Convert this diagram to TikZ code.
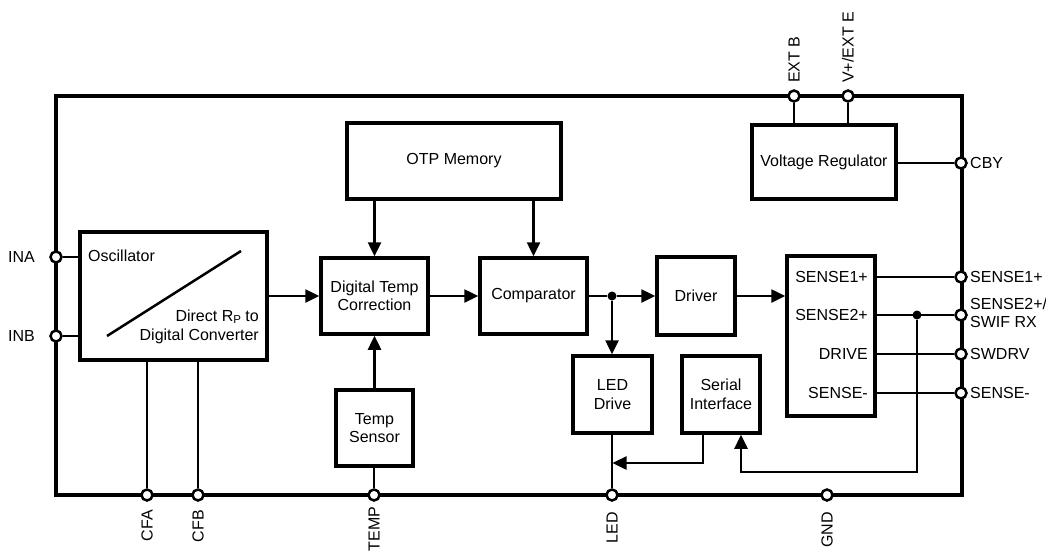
\documentclass[tikz,border=0pt]{standalone}
\usepackage{fontspec}
\setmainfont{Liberation Sans}
\usetikzlibrary{arrows.meta}
\begin{document}
\begin{tikzpicture}[x=1pt,y=-1pt,
  font=\fontsize{16}{18.5}\selectfont,
  blk/.style={draw,line width=3.5pt,align=center,inner sep=0pt},
  wire/.style={line width=2.5pt},
  arr/.style={line width=2.5pt,-{Triangle[length=14pt,width=13pt]}},
  pinc/.style={circle,draw,fill=white,line width=2.5pt,minimum size=11pt,inner sep=0pt},
  jdot/.style={circle,fill,minimum size=9pt,inner sep=0pt},
  lbl/.style={inner sep=0pt},
]
\useasboundingbox (0,0) rectangle (1046,552);
% chip outline
\node[draw,line width=3.5pt,minimum width=906pt,minimum height=399pt,inner sep=0pt] (chip) at (509,295.5) {};
% blocks
\node[blk,minimum width=187pt,minimum height=128pt] (osc) at (173.5,296) {};
\node[blk,minimum width=107pt,minimum height=76pt] (dtc) at (374.5,296) {Digital Temp\\Correction};
\node[blk,minimum width=107pt,minimum height=76pt] (cmp) at (533.5,296) {Comparator};
\node[blk,minimum width=78pt,minimum height=78pt] (drv) at (696,296) {Driver};
\node[blk,minimum width=88pt,minimum height=160pt] (sns) at (831,336) {};
\node[blk,minimum width=79pt,minimum height=77pt] (ledd) at (612.5,394.5) {LED\\Drive};
\node[blk,minimum width=78pt,minimum height=77pt] (ser) at (721,394.5) {Serial\\Interface};
\node[blk,minimum width=77pt,minimum height=76pt] (ts) at (374.5,428) {Temp\\Sensor};
\node[blk,minimum width=214pt,minimum height=76pt] (otp) at (454,161) {OTP Memory};
\node[blk,minimum width=144pt,minimum height=74pt] (vr) at (824,162) {Voltage Regulator};
% oscillator content
\node[lbl,anchor=west] (osct) at (88,256) {Oscillator};
\node[lbl,anchor=east,align=right] (dct) at (259,327) {Direct R{\fontsize{11.5}{11.5}\selectfont\raisebox{-2pt}{P}} to\\Digital Converter};
\coordinate (dg1) at (107,336);
\coordinate (dg2) at (241,251);
\draw[wire] (dg1) -- (dg2);
% sense block labels
\node[lbl,anchor=east] (s1) at (868,277) {SENSE1+};
\node[lbl,anchor=east] (s2) at (868,315) {SENSE2+};
\node[lbl,anchor=east] (sd) at (868,354) {DRIVE};
\node[lbl,anchor=east] (sm) at (868,393) {SENSE-};
% junctions
\node[jdot] (d1) at (612,296) {};
\node[jdot] (d2) at (917,315) {};
\coordinate (sj) at (703,463);
\coordinate (sb) at (741,472);
% signal wires
\draw[arr] (osc.east) -- (dtc.west);
\draw[arr] (dtc.east) -- (cmp.west);
\draw[wire] (cmp.east) -- (d1);
\draw[arr] (d1) -- (drv.west);
\draw[arr] (d1) -- (d1 |- ledd.north);
\draw[arr] (drv.east) -- (drv.east -| sns.west);
\draw[arr] (otp.south -| dtc) -- (dtc.north);
\draw[arr] (otp.south -| cmp) -- (cmp.north);
\draw[arr] (ts.north) -- (dtc.south);
\draw[arr] (ser.south -| sj) -- (sj) -- (sj -| ledd);
\draw[arr] (d2) |- (sb) -- (ser.south -| sb);
% pins
\node[pinc] (extb) at (794,96) {};
\node[pinc] (vext) at (848,96) {};
\node[pinc] (cby) at (961,163) {};
\node[pinc] (ina) at (56,257) {};
\node[pinc] (inb) at (56,336) {};
\node[pinc] (cfa) at (147,495) {};
\node[pinc] (cfb) at (198,495) {};
\node[pinc] (temp) at (374,495) {};
\node[pinc] (led) at (612,495) {};
\node[pinc] (gnd) at (827,495) {};
\node[pinc] (ps1) at (961,277) {};
\node[pinc] (ps2) at (961,315) {};
\node[pinc] (psd) at (961,354) {};
\node[pinc] (psm) at (961,393) {};
% pin wires
\draw[wire] (vr.north -| extb) -- (extb);
\draw[wire] (vr.north -| vext) -- (vext);
\draw[wire] (vr.east |- cby) -- (cby);
\draw[wire] (ina) -- (osc.west |- ina);
\draw[wire] (inb) -- (osc.west |- inb);
\draw[wire] (osc.south -| cfa) -- (cfa);
\draw[wire] (osc.south -| cfb) -- (cfb);
\draw[wire] (ts.south -| temp) -- (temp);
\draw[wire] (ledd.south -| led) -- (led);
\draw[wire] (sns.east |- ps1) -- (ps1);
\draw[wire] (sns.east |- ps2) -- (ps2);
\draw[wire] (sns.east |- psd) -- (psd);
\draw[wire] (sns.east |- psm) -- (psm);
% pin labels
\node[lbl,rotate=90,anchor=west] (lextb) at (794,83) {EXT B};
\node[lbl,rotate=90,anchor=west] (lvext) at (848,83) {V+/EXT E};
\node[lbl,anchor=west] (lcby) at (970,163) {CBY};
\node[lbl,anchor=east] (lina) at (35,257) {INA};
\node[lbl,anchor=east] (linb) at (35,336) {INB};
\node[lbl,rotate=90,anchor=east] (lcfa) at (147,510) {CFA};
\node[lbl,rotate=90,anchor=east] (lcfb) at (198,510) {CFB};
\node[lbl,rotate=90,anchor=east] (ltemp) at (374,506.5) {TEMP};
\node[lbl,rotate=90,anchor=east] (lled) at (612,512) {LED};
\node[lbl,rotate=90,anchor=east] (lgnd) at (827,512) {GND};
\node[lbl,anchor=west] (ls1) at (970,277) {SENSE1+};
\node[lbl,anchor=west,align=left] (ls2) at (970,313) {SENSE2+/\\SWIF RX};
\node[lbl,anchor=west] (lsd) at (970,354) {SWDRV};
\node[lbl,anchor=west] (lsm) at (970,393) {SENSE-};
\end{tikzpicture}
\end{document}
